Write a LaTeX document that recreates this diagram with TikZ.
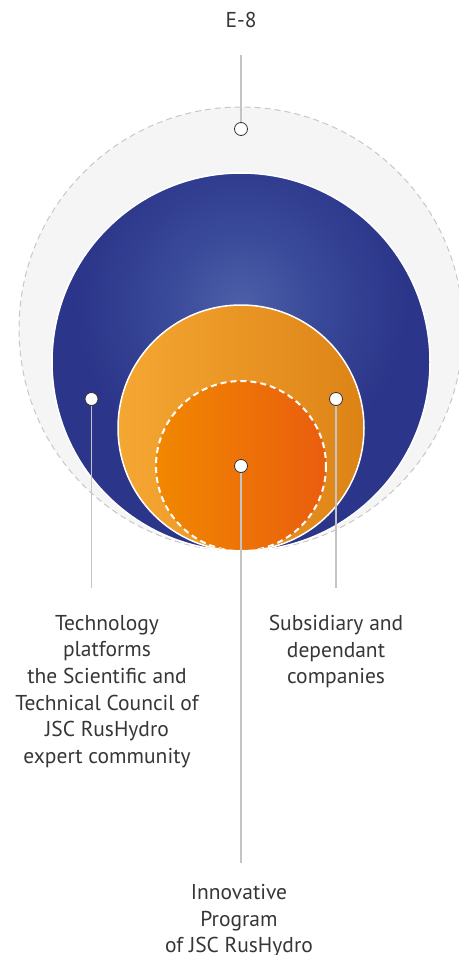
\documentclass[tikz,border=0pt]{standalone}
\usepackage{fontspec}
\setmainfont{PT Sans}
\usepackage{xcolor}
\usepackage{tikz}
\usetikzlibrary{positioning}

\definecolor{txtgray}{HTML}{363636}
\definecolor{leadgray}{HTML}{C4C4C4}
\definecolor{ringfill}{HTML}{F5F5F5}
\definecolor{ringdash}{HTML}{C8C8C8}
\definecolor{blueIn}{HTML}{4C5FA8}
\definecolor{blueMid}{HTML}{3A4A9A}
\definecolor{blueOut}{HTML}{2B3589}
\definecolor{orL}{HTML}{F5A733}
\definecolor{orR}{HTML}{DD8316}
\definecolor{innL}{HTML}{F18800}
\definecolor{innR}{HTML}{EA5D0E}
\definecolor{dotline}{HTML}{333333}

\pgfdeclareradialshading{bluesh}{\pgfpoint{0bp}{0bp}}{color(0bp)=(blueIn); color(7bp)=(blueMid); color(16bp)=(blueOut); color(25bp)=(blueOut); color(50bp)=(blueOut)}

\begin{document}
\begin{tikzpicture}[x=1pt,y=-1pt]
\tikzstyle{dot}=[circle,draw=dotline,fill=white,line width=0.8pt,inner sep=0pt,minimum size=13pt]
\tikzstyle{lead}=[draw=leadgray,line width=1.2pt]
\tikzstyle{lbl}=[align=center,text=txtgray,inner sep=0pt,anchor=north,font=\fontsize{21.5}{26.6}\selectfont]
\useasboundingbox (0,0) rectangle (458,955);
% rings
\draw[fill=ringfill,draw=ringdash,line width=1pt,dash pattern=on 6pt off 4pt] (241,329) circle (222);
\begin{scope}
\clip (241,362) circle (189);
\shade[shading=bluesh] (241,305) circle (260);
\end{scope}
\draw[white,line width=1.5pt] (241,362) circle (189);
\shade[left color=orL,right color=orR,draw=white,line width=1.5pt] (241,428) circle (123);
\begin{scope}
\clip (241,428) circle (122);
\shade[left color=innL,right color=innR] (241,466) circle (85);
\draw[white,line width=2pt,dash pattern=on 6pt off 4pt] (241,466) circle (85);
\end{scope}
% dots and leads
\node[dot] (dotE) at (241,129) {};
\node[dot] (dotT) at (91.5,399) {};
\node[dot] (dotS) at (336,399) {};
\node[dot] (dotI) at (241,466) {};
\coordinate (endE) at (241,55);
\coordinate (endT) at (91.5,588);
\coordinate (endS) at (336,588);
\coordinate (endI) at (241,863);
\draw[lead] (dotE) -- (endE);
\draw[lead] (dotT) -- (endT);
\draw[lead] (dotS) -- (endS);
\draw[lead] (dotI) -- (endI);
% labels
\node[lbl] (labE) at (241,12) {E-8};
\node[lbl] (labT) at (107,615) {Technology\\platforms\\the Scientific and\\Technical Council of\\JSC RusHydro\\expert community};
\node[lbl] (labS) at (336,615) {Subsidiary and\\dependant\\companies};
\node[lbl] (labI) at (239,884) {Innovative\\Program\\of JSC RusHydro};
\end{tikzpicture}
\end{document}
